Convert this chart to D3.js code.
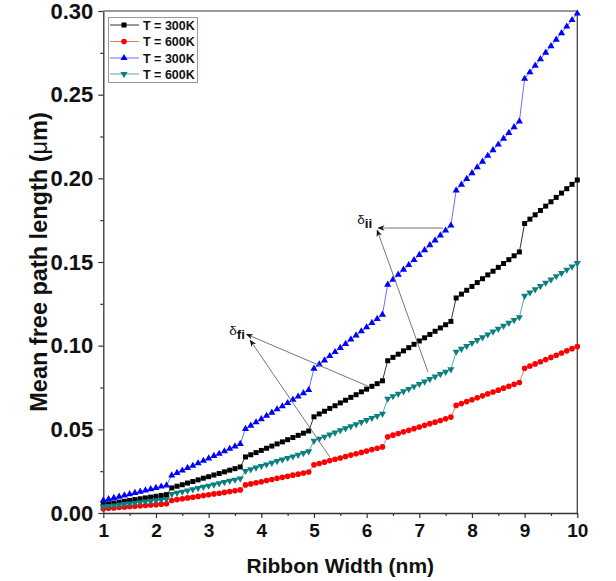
<!DOCTYPE html>
<html>
<head>
<meta charset="utf-8">
<script src="https://cdn.jsdelivr.net/npm/d3@7/dist/d3.min.js"></script>
<style>
  body { margin: 0; background: #fff; }
  svg { display: block; }
  text { font-family: Arial, "Liberation Sans", Helvetica, sans-serif; }
</style>
</head>
<body>
<svg id="chart" width="616" height="581"></svg>
<script>
// Ribbon widths (nm)
const widths = [
  1.0,1.1,1.2,1.3,1.4,1.5,1.6,1.7,1.8,1.9,
  2.0,2.1,2.2,2.3,2.4,2.5,2.6,2.7,2.8,2.9,
  3.0,3.1,3.2,3.3,3.4,3.5,3.6,3.7,3.8,3.9,
  4.0,4.1,4.2,4.3,4.4,4.5,4.6,4.7,4.8,4.9,
  5.0,5.1,5.2,5.3,5.4,5.5,5.6,5.7,5.8,5.9,
  6.0,6.1,6.2,6.3,6.4,6.5,6.6,6.7,6.8,6.9,
  7.0,7.1,7.2,7.3,7.4,7.5,7.6,7.7,7.8,7.9,
  8.0,8.1,8.2,8.3,8.4,8.5,8.6,8.7,8.8,8.9,
  9.0,9.1,9.2,9.3,9.4,9.5,9.6,9.7,9.8,9.9,10.0
];

// Mean free path (um), first family, T = 300K
const mfpA300 = [
  0.0050,0.0055,0.0060,0.0065,0.0070,0.0075,0.0080,0.0085,0.0090,0.0095,0.0100,0.0105,0.0110,
  0.0150,0.0160,0.0169,0.0179,0.0188,0.0198,0.0208,0.0217,0.0227,0.0236,0.0246,0.0256,0.0265,0.0275,
  0.0335,0.0348,0.0361,0.0374,0.0387,0.0400,0.0413,0.0425,0.0438,0.0451,0.0464,0.0477,0.0490,
  0.0575,0.0592,0.0608,0.0625,0.0641,0.0658,0.0674,0.0691,0.0707,0.0724,0.0740,0.0757,0.0773,0.0790,
  0.0910,0.0930,0.0949,0.0969,0.0988,0.1008,0.1028,0.1047,0.1067,0.1086,0.1106,0.1125,0.1145,
  0.1285,0.1308,0.1331,0.1354,0.1377,0.1400,0.1423,0.1445,0.1468,0.1491,0.1514,0.1537,0.1560,
  0.1730,0.1756,0.1782,0.1808,0.1834,0.1860,0.1886,0.1912,0.1938,0.1964,0.1990
];

// First family, T = 600K
const mfpA600 = [
  0.0025,0.0028,0.0030,0.0033,0.0035,0.0038,0.0040,0.0043,0.0045,0.0048,0.0050,0.0053,0.0055,
  0.0075,0.0080,0.0085,0.0090,0.0094,0.0099,0.0104,0.0109,0.0114,0.0118,0.0123,0.0128,0.0133,0.0138,
  0.0168,0.0174,0.0181,0.0187,0.0194,0.0200,0.0207,0.0213,0.0219,0.0226,0.0232,0.0239,0.0245,
  0.0288,0.0296,0.0304,0.0313,0.0321,0.0329,0.0337,0.0346,0.0354,0.0362,0.0370,0.0379,0.0387,0.0395,
  0.0455,0.0465,0.0475,0.0485,0.0494,0.0504,0.0514,0.0524,0.0534,0.0543,0.0553,0.0563,0.0573,
  0.0643,0.0654,0.0666,0.0677,0.0689,0.0700,0.0712,0.0723,0.0734,0.0746,0.0757,0.0769,0.0780,
  0.0865,0.0878,0.0891,0.0904,0.0917,0.0930,0.0943,0.0956,0.0969,0.0982,0.0995
];

// Second family, T = 300K
const mfpB300 = [
  0.0075,0.0083,0.0090,0.0098,0.0105,0.0113,0.0120,0.0128,0.0135,0.0143,0.0150,0.0158,0.0165,
  0.0225,0.0240,0.0254,0.0269,0.0282,0.0297,0.0312,0.0326,0.0341,0.0354,0.0369,0.0384,0.0398,0.0413,
  0.0503,0.0522,0.0542,0.0561,0.0581,0.0600,0.0620,0.0638,0.0657,0.0677,0.0696,0.0716,0.0735,
  0.0863,0.0888,0.0912,0.0938,0.0962,0.0987,0.1011,0.1037,0.1061,0.1086,0.1110,0.1136,0.1160,0.1185,
  0.1365,0.1395,0.1424,0.1454,0.1482,0.1512,0.1542,0.1571,0.1601,0.1629,0.1659,0.1688,0.1718,
  0.1928,0.1962,0.1997,0.2031,0.2066,0.2100,0.2135,0.2168,0.2202,0.2237,0.2271,0.2306,0.2340,
  0.2595,0.2634,0.2673,0.2712,0.2751,0.2790,0.2829,0.2868,0.2907,0.2946,0.2985
];

// Second family, T = 600K
const mfpB600 = [
  0.0038,0.0041,0.0045,0.0049,0.0053,0.0056,0.0060,0.0064,0.0068,0.0071,0.0075,0.0079,0.0083,
  0.0113,0.0120,0.0127,0.0134,0.0141,0.0149,0.0156,0.0163,0.0170,0.0177,0.0185,0.0192,0.0199,0.0206,
  0.0251,0.0261,0.0271,0.0281,0.0290,0.0300,0.0310,0.0319,0.0329,0.0338,0.0348,0.0358,0.0368,
  0.0431,0.0444,0.0456,0.0469,0.0481,0.0494,0.0506,0.0518,0.0530,0.0543,0.0555,0.0568,0.0580,0.0593,
  0.0683,0.0698,0.0712,0.0727,0.0741,0.0756,0.0771,0.0785,0.0800,0.0815,0.0830,0.0844,0.0859,
  0.0964,0.0981,0.0998,0.1016,0.1033,0.1050,0.1067,0.1084,0.1101,0.1118,0.1136,0.1153,0.1170,
  0.1298,0.1317,0.1337,0.1356,0.1376,0.1395,0.1415,0.1434,0.1454,0.1473,0.1493
];

const seriesNames = ["T = 300K", "T = 600K", "T = 300K", "T = 600K"];
const xTicks = [1, 2, 3, 4, 5, 6, 7, 8, 9, 10];
const xMinorTicks = [1.5, 2.5, 3.5, 4.5, 5.5, 6.5, 7.5, 8.5, 9.5];
const yTicks = [0.00, 0.05, 0.10, 0.15, 0.20, 0.25, 0.30];
const yMinorTicks = [0.025, 0.075, 0.125, 0.175, 0.225, 0.275];

// Annotation arrows in data units: [tailX, tailY, headX, headY]
const deltaIIArrows = [[7.45, 0.1703, 6.22, 0.1703], [7.165, 0.0843, 6.20, 0.1690]];
const deltaFIArrows = [[6.06, 0.0753, 3.72, 0.1068], [5.30, 0.0335, 3.79, 0.1032]];
const deltaIILabel = [5.82, 0.1727];
const deltaFILabel = [3.39, 0.1064];

// ---- styles ----
const styles = [
  { marker: d3.symbolSquare,   size: 25, rot: 0,   fill: "#000000", line: "#333333" },
  { marker: d3.symbolCircle,   size: 25, rot: 0,   fill: "#ff0000", line: "#ff7070" },
  { marker: d3.symbolTriangle, size: 22, rot: 0,   fill: "#0000ff", line: "#6c6cff" },
  { marker: d3.symbolTriangle, size: 22, rot: 180, fill: "#0b7f7f", line: "#5aa8a8" }
];

const svg = d3.select("#chart");
const m = { left: 103.3, right: 577.3, top: 11, bottom: 513 };

const x = d3.scaleLinear().domain([1, 10]).range([m.left, m.right]);
const y = d3.scaleLinear().domain([0, 0.30]).range([m.bottom, m.top]);

// frame (top / right)
svg.append("line").attr("x1", m.left).attr("x2", m.right).attr("y1", m.top).attr("y2", m.top)
  .attr("stroke", "#777").attr("stroke-width", 1.3);
svg.append("line").attr("x1", m.right).attr("x2", m.right).attr("y1", m.top).attr("y2", m.bottom)
  .attr("stroke", "#444").attr("stroke-width", 1.3);

// axes
function styleAxis(g, fs) {
  g.selectAll(".domain").attr("stroke", "#333").attr("stroke-width", 1.3);
  g.selectAll(".tick line").attr("stroke", "#333").attr("stroke-width", 1.2);
  g.selectAll("text").attr("font-weight", "bold").attr("font-size", fs).attr("fill", "#111");
}

const gx = svg.append("g").attr("transform", `translate(0,${m.bottom})`)
  .call(d3.axisBottom(x).tickValues(xTicks).tickSize(5).tickSizeOuter(0).tickPadding(6)
    .tickFormat(d3.format("d")));
styleAxis(gx, 19);
const gxm = svg.append("g").attr("transform", `translate(0,${m.bottom})`)
  .call(d3.axisBottom(x).tickValues(xMinorTicks).tickSize(3).tickFormat(""));
gxm.select(".domain").remove();
gxm.selectAll(".tick line").attr("stroke", "#333").attr("stroke-width", 1.2);

const gy = svg.append("g").attr("transform", `translate(${m.left},0)`)
  .call(d3.axisLeft(y).tickValues(yTicks).tickSize(5).tickSizeOuter(0).tickPadding(5)
    .tickFormat(d3.format(".2f")));
styleAxis(gy, 22);
const gym = svg.append("g").attr("transform", `translate(${m.left},0)`)
  .call(d3.axisLeft(y).tickValues(yMinorTicks).tickSize(3).tickFormat(""));
gym.select(".domain").remove();
gym.selectAll(".tick line").attr("stroke", "#333").attr("stroke-width", 1.2);

// axis titles
svg.append("text")
  .attr("x", (m.left + m.right) / 2).attr("y", 573)
  .attr("text-anchor", "middle").attr("font-weight", "bold").attr("font-size", 21).attr("fill", "#111")
  .text("Ribbon Width (nm)");

const yTitle = svg.append("text")
  .attr("transform", `translate(47,${(m.top + m.bottom) / 2}) rotate(-90)`)
  .attr("text-anchor", "middle").attr("font-size", 23.5).attr("fill", "#111");
yTitle.append("tspan").attr("font-weight", "bold").text("Mean free path length ");
yTitle.append("tspan").attr("font-weight", "bold").text("(");
yTitle.append("tspan").attr("font-weight", "normal").text("μ");
yTitle.append("tspan").attr("font-weight", "bold").text("m)");

// series
const seriesValues = [mfpA300, mfpA600, mfpB300, mfpB600];
const plot = svg.append("g");
seriesValues.forEach((vals, i) => {
  const st = styles[i];
  const pts = widths.map((w, k) => [w, vals[k]]);
  plot.append("path")
    .attr("d", d3.line().x(d => x(d[0])).y(d => y(d[1]))(pts))
    .attr("fill", "none").attr("stroke", st.line).attr("stroke-width", 1);
  const sym = d3.symbol().type(st.marker).size(st.size);
  plot.append("g").selectAll("path").data(pts).join("path")
    .attr("d", sym)
    .attr("transform", d => `translate(${x(d[0])},${y(d[1])}) rotate(${st.rot})`)
    .attr("fill", st.fill);
});

// annotations
const defs = svg.append("defs");
defs.append("marker").attr("id", "head").attr("viewBox", "0 0 10 10")
  .attr("refX", 9).attr("refY", 5).attr("markerWidth", 7).attr("markerHeight", 7)
  .attr("markerUnits", "userSpaceOnUse").attr("orient", "auto")
  .append("path").attr("d", "M0,1 L10,5 L0,9 L3,5 Z").attr("fill", "#111");

const ann = svg.append("g");
[...deltaIIArrows, ...deltaFIArrows].forEach(a => {
  ann.append("line")
    .attr("x1", x(a[0])).attr("y1", y(a[1]))
    .attr("x2", x(a[2])).attr("y2", y(a[3]))
    .attr("stroke", "#777").attr("stroke-width", 1)
    .attr("marker-end", "url(#head)");
});

function deltaLabel(pos, sub) {
  const t = ann.append("text").attr("x", x(pos[0])).attr("y", y(pos[1]))
    .attr("font-size", 13.5).attr("fill", "#111");
  t.append("tspan").text("δ");
  t.append("tspan").attr("dy", 4).attr("font-weight", "bold").text(sub);
}
deltaLabel(deltaIILabel, "ii");
deltaLabel(deltaFILabel, "fi");

// legend
const lg = svg.append("g");
lg.append("rect").attr("x", 108.5).attr("y", 17.5).attr("width", 89).attr("height", 65)
  .attr("fill", "#fff").attr("stroke", "#999").attr("stroke-width", 1);
const rowY = [25, 41.5, 58, 74];
seriesNames.forEach((name, i) => {
  const st = styles[i];
  const yy = rowY[i];
  lg.append("line").attr("x1", 110).attr("x2", 139).attr("y1", yy).attr("y2", yy)
    .attr("stroke", st.line).attr("stroke-width", 1);
  lg.append("path").attr("d", d3.symbol().type(st.marker).size(st.size)())
    .attr("transform", `translate(124,${yy}) rotate(${st.rot})`).attr("fill", st.fill);
  lg.append("text").attr("x", 143).attr("y", yy + 4.5)
    .attr("font-size", 12.5).attr("font-weight", "bold").attr("fill", "#111").text(name);
});
</script>
</body>
</html>
